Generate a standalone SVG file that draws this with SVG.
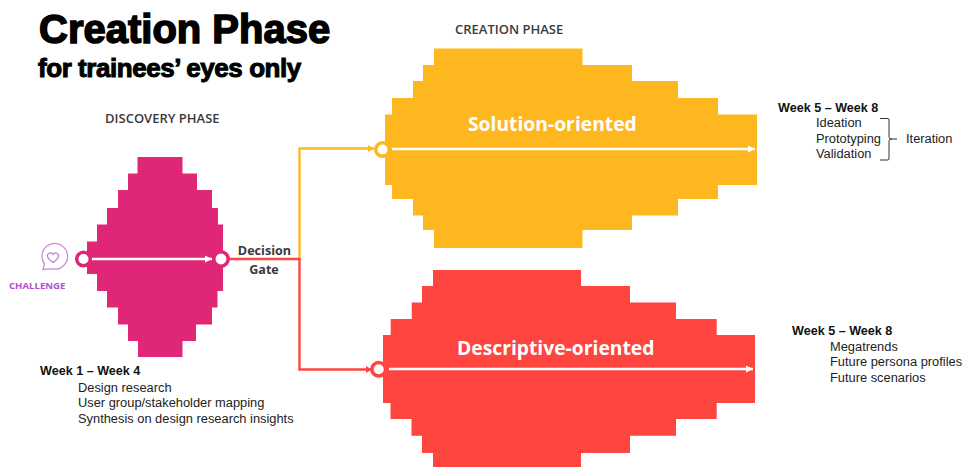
<svg xmlns="http://www.w3.org/2000/svg" width="964" height="467" viewBox="0 0 964 467">
<style>
text{font-family:"Liberation Sans",Arial,sans-serif;fill:#1a1a1a}
.t1{font-size:40px;font-weight:700;fill:#000;stroke:#000;stroke-width:1.500px}
.t2{font-size:26px;font-weight:700;fill:#000;stroke:#000;stroke-width:1px;letter-spacing:-.45px}
.ph{font-family:"Open Sans",sans-serif;font-size:13px;font-weight:600;fill:#3a3a3a}
.dg{font-family:"Open Sans",sans-serif;font-size:12.600px;font-weight:700;fill:#3a3a3a}
.wk{font-size:12.600px;font-weight:700;fill:#111}
.it{font-size:12.850px;fill:#222}
.big{font-family:"Open Sans",sans-serif;font-size:19.300px;font-weight:700;fill:#fff}
.chal{font-family:"Open Sans",sans-serif;font-size:9.600px;font-weight:700;fill:#b04fd0}
.a{stroke:#fff;stroke-width:2.300;fill:none;marker-end:url(#w)}
.c{fill:#fff;stroke-width:3.500}
.o{fill:none;stroke:#ffb820;stroke-width:2.400}
.r{fill:none;stroke:#fe4540;stroke-width:2.400}
.b{fill:none;stroke:#333;stroke-width:1}
</style>
<defs>
<marker id="w" markerUnits="userSpaceOnUse" markerWidth="8" markerHeight="8" refX="7" refY="4" orient="auto"><path d="M0 .5L7 4L0 7.500z" fill="#fff"/></marker>
<marker id="om" markerUnits="userSpaceOnUse" markerWidth="7" markerHeight="8" refX="6" refY="4" orient="auto"><path d="M0 .5L6 4L0 7.500z" fill="#ffb820"/></marker>
<marker id="rm" markerUnits="userSpaceOnUse" markerWidth="7" markerHeight="8" refX="6" refY="4" orient="auto"><path d="M0 .5L6 4L0 7.500z" fill="#fe4540"/></marker>
</defs>
<g id="title">
<text class="t1" x="39" y="42.500">Creation Phase</text>
<text class="t2" x="38" y="77">for trainees’ eyes only</text>
</g>
<g id="connectors">
<path class="o" d="M299.500 259V148.500H374" marker-end="url(#om)"/>
<path class="r" d="M224 259H299.500V369.500H372" marker-end="url(#rm)"/>
</g>
<g id="discovery">
<text class="ph" x="105" y="123">DISCOVERY PHASE</text>
<path fill="#e02777" d="M137.500 157H182.500V173.500H197V190H212V208H218V224.500H223V274H223V291H217.500V307.500H212V324.500H196V341H182.500V357H138V341H128V324.500H118V307.500H107V291H97V274H87V241.500H97V224.500H107V208H118V190H128V173.500H137.500Z"/>
<path class="a" d="M90 259H212"/>
<circle class="c" stroke="#e02777" cx="83.500" cy="259" r="6.800"/>
<circle class="c" stroke="#e02777" cx="221" cy="259" r="7.200"/>
<text class="dg" x="264.500" y="255" text-anchor="middle">Decision</text>
<text class="dg" x="264" y="274" text-anchor="middle">Gate</text>
</g>
<g id="challenge">
<path d="M43 269.500L44.500 264A12.800 12.800 0 1 1 53 269C50 268.500 46.500 269 43 269.500Z" fill="none" stroke="#c98bdc" stroke-width="1.300"/>
<path d="M53 262.500C50 260.500 47.500 258.500 47.500 256C47.500 252.500 51.500 252 53 254.500C54.500 252 58.500 252.500 58.500 256C58.500 258.500 56 260.500 53 262.500Z" fill="none" stroke="#c070d8" stroke-width="1.200"/>
<text class="chal" x="9" y="289">CHALLENGE</text>
</g>
<g id="discovery-notes">
<text class="wk" x="40" y="375">Week 1 – Week 4</text>
<text class="it" x="78" y="392">Design research</text>
<text class="it" x="78" y="407">User group/stakeholder mapping</text>
<text class="it" x="78" y="423">Synthesis on design research insights</text>
</g>
<g id="solution">
<text class="ph" x="455" y="34">CREATION PHASE</text>
<path fill="#ffb71f" d="M434 48.500H582.500V65H632V81H678V98H718V114.500H757V185H718V199H678V215.500H632V230H582.500V248H434V230H423V215.500H413V199H392V185H385V114.500H392V98H413V81H423V65H434Z"/>
<text class="big" x="468" y="131">Solution-oriented</text>
<path class="a" d="M392 149H755"/>
<circle class="c" stroke="#ffb71f" cx="382.500" cy="149.500" r="6.800"/>
</g>
<g id="solution-notes">
<text class="wk" x="778" y="112">Week 5 – Week 8</text>
<text class="it" x="816" y="127">Ideation</text>
<text class="it" x="816" y="143">Prototyping</text>
<text class="it" x="816" y="158">Validation</text>
<path class="b" d="M880 118.500H888Q889 118.500 889 120V137Q889 139 892 139H897M892 139Q889 139 889 141V158Q889 160 888 160H880"/>
<text class="it" x="906" y="143">Iteration</text>
</g>
<g id="descriptive">
<path fill="#fe4540" d="M433 270H581V286H630V302.500H676V319H716.700V335H755V403H716.700V419H676V435.700H630V453H581V467H433V453H422V435.700H411.500V419H390.500V403H383V335H390.700V319H411.700V302.500H422V286H433Z"/>
<text class="big" x="457" y="355">Descriptive-oriented</text>
<path class="a" d="M389 369H753"/>
<circle class="c" stroke="#fe4540" cx="378.700" cy="369.300" r="6.800"/>
</g>
<g id="descriptive-notes">
<text class="wk" x="792" y="335">Week 5 – Week 8</text>
<text class="it" x="830" y="351">Megatrends</text>
<text class="it" x="830" y="366">Future persona profiles</text>
<text class="it" x="830" y="382">Future scenarios</text>
</g>
</svg>
